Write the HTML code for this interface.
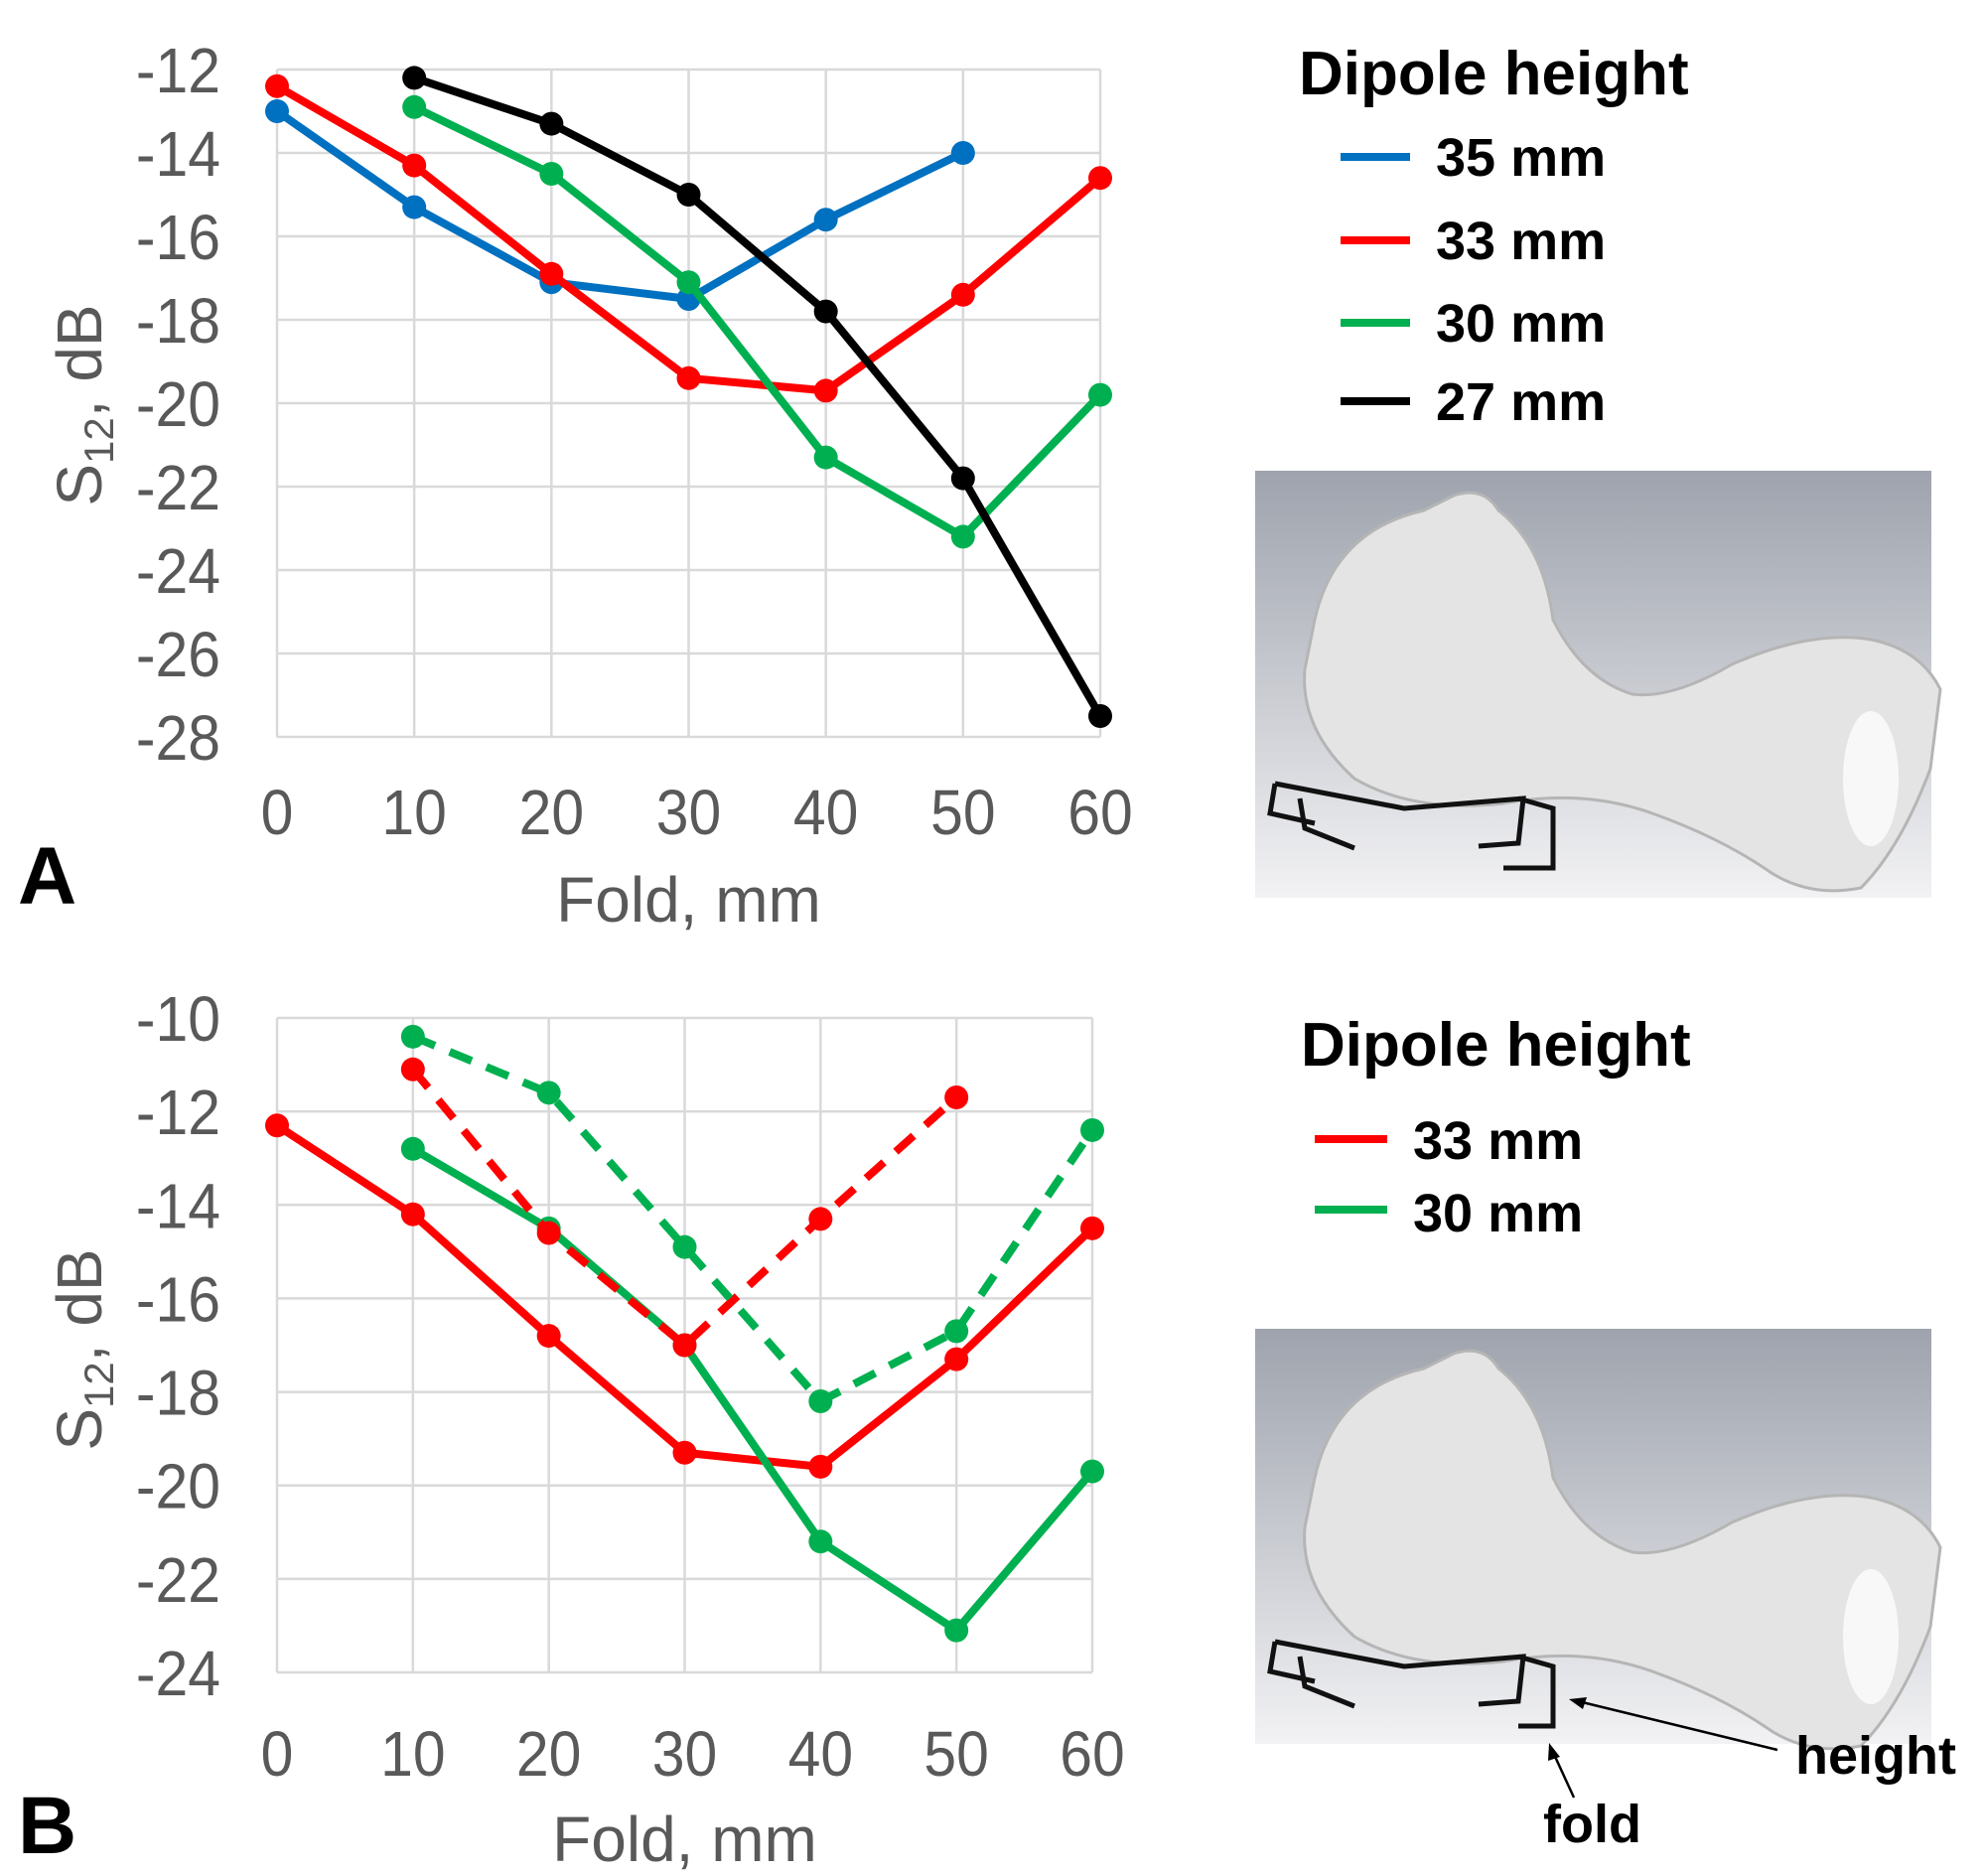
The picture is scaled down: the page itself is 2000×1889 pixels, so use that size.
<!DOCTYPE html>
<html><head><meta charset="utf-8"><style>
html,body{margin:0;padding:0;background:#fff;}
svg{display:block;font-family:"Liberation Sans",Arial,sans-serif;}
</style></head><body>
<svg id="fig" width="2000" height="1889" viewBox="0 0 2000 1889">
<defs>
<linearGradient id="bg" x1="0" y1="0" x2="0" y2="1"><stop offset="0" stop-color="#9ea3ad"/><stop offset="1" stop-color="#f2f2f4"/></linearGradient>
<g id="head">
<path d="M60 150 Q80 60 170 40 L200 25 Q230 15 245 40 Q290 75 300 150 Q330 210 380 225 Q420 230 480 195 Q560 160 620 170 Q670 180 690 220 L680 300 Q650 380 610 420 Q560 430 520 405 Q470 370 400 345 Q330 320 250 335 Q160 345 100 310 Q45 260 50 200 Z" fill="#e4e4e4" stroke="#b5b5b5" stroke-width="3"/>
<ellipse cx="620" cy="310" rx="28" ry="68" fill="#f8f8f8"/>
</g>
</defs>
<g id="chartA"></g>
<g id="chartB"></g>
<text x="18" y="910" font-size="82" font-weight="bold" fill="#000">A</text>
<text x="18" y="1866" font-size="82" font-weight="bold" fill="#000">B</text>

<g>
<text x="1308" y="95" font-size="62" font-weight="bold">Dipole height</text>
<g><line x1="1350" x2="1420" y1="158" y2="158" stroke="#0070c0" stroke-width="8"/><text x="1446" y="177" font-size="54" font-weight="bold">35 mm</text></g>
<g><line x1="1350" x2="1420" y1="242" y2="242" stroke="#ff0000" stroke-width="8"/><text x="1446" y="261" font-size="54" font-weight="bold">33 mm</text></g>
<g><line x1="1350" x2="1420" y1="325" y2="325" stroke="#00b050" stroke-width="8"/><text x="1446" y="344" font-size="54" font-weight="bold">30 mm</text></g>
<g><line x1="1350" x2="1420" y1="404" y2="404" stroke="#000" stroke-width="8"/><text x="1446" y="423" font-size="54" font-weight="bold">27 mm</text></g>
</g>
<g>
<text x="1310" y="1073" font-size="62" font-weight="bold">Dipole height</text>
<g><line x1="1324" x2="1397" y1="1147" y2="1147" stroke="#ff0000" stroke-width="8"/><text x="1423" y="1167" font-size="54" font-weight="bold">33 mm</text></g>
<g><line x1="1324" x2="1397" y1="1218" y2="1218" stroke="#00b050" stroke-width="8"/><text x="1423" y="1240" font-size="54" font-weight="bold">30 mm</text></g>
</g>

<g transform="translate(1264,474)">
<rect width="681" height="430" fill="url(#bg)"/>
<use href="#head"/>
<path d="M20 315 L150 340 L270 330 L265 375 L225 378 M265 330 L300 340 L300 400 L250 400 M20 315 L15 345 L60 355 M45 330 L50 360 L100 380" fill="none" stroke="#111" stroke-width="5"/>
</g>
<g transform="translate(1264,1338)">
<rect width="681" height="418" fill="url(#bg)"/>
<use href="#head"/>
<path d="M20 315 L150 340 L270 330 L265 375 L225 378 M265 330 L300 340 L300 400 L265 400 M20 315 L15 345 L60 355 M45 330 L50 360 L100 380" fill="none" stroke="#111" stroke-width="5"/>
</g>
<g>
<line x1="1790" y1="1762" x2="1585" y2="1712" stroke="#000" stroke-width="2.5"/>
<path d="M1580 1711 l18 -2 l-4 12 z" fill="#000"/>
<line x1="1585" y1="1810" x2="1562" y2="1760" stroke="#000" stroke-width="2.5"/>
<path d="M1560 1755 l11 14 l-12 4 z" fill="#000"/>
<text x="1808" y="1786" font-size="54" font-weight="bold">height</text>
<text x="1554" y="1855" font-size="54" font-weight="bold">fold</text>
</g>
</svg>
<script>
var xCats=[0,10,20,30,40,50,60];
var aYTicks=[-12,-14,-16,-18,-20,-22,-24,-26,-28];
var bYTicks=[-10,-12,-14,-16,-18,-20,-22,-24];
var aX35=[0,10,20,30,40,50];      var aY35=[-13,-15.3,-17.1,-17.5,-15.6,-14.0];
var aX33=[0,10,20,30,40,50,60];   var aY33=[-12.4,-14.3,-16.9,-19.4,-19.7,-17.4,-14.6];
var aX30=[10,20,30,40,50,60];     var aY30=[-12.9,-14.5,-17.1,-21.3,-23.2,-19.8];
var aX27=[10,20,30,40,50,60];     var aY27=[-12.2,-13.3,-15.0,-17.8,-21.8,-27.5];
var bX33=[0,10,20,30,40,50,60];   var bY33=[-12.3,-14.2,-16.8,-19.3,-19.6,-17.3,-14.5];
var bX30=[10,20,30,40,50,60];     var bY30=[-12.8,-14.5,-17.0,-21.2,-23.1,-19.7];
var bX33d=[10,20,30,40,50];       var bY33d=[-11.1,-14.6,-17.0,-14.3,-11.7];
var bX30d=[10,20,30,40,50,60];    var bY30d=[-10.4,-11.6,-14.9,-18.2,-16.7,-12.4];

var NS="http://www.w3.org/2000/svg";
function mk(tag,attrs,parent){var e=document.createElementNS(NS,tag);for(var k in attrs)e.setAttribute(k,attrs[k]);parent.appendChild(e);return e;}
function drawChart(g,cfg){
  var sx=function(v){return cfg.x0+(v-0)/60*(cfg.x1-cfg.x0);};
  var sy=function(v){return cfg.yTop+(cfg.yMax-v)/(cfg.yMax-cfg.yMin)*(cfg.yBot-cfg.yTop);};
  cfg.yTicks.forEach(function(t){
    var l=mk('line',{x1:cfg.x0,x2:cfg.x1,y1:sy(t),y2:sy(t),stroke:'#d9d9d9','stroke-width':2.5},g);
    
    
    var tx=mk('text',{x:0,y:0,'font-size':64,fill:'#595959','text-anchor':'end',transform:'translate(222,'+(sy(t)+23)+') scale(0.92,1)'},g);
    tx.textContent=String(t);
    
    
  });
  xCats.forEach(function(c){
    var l=mk('line',{x1:sx(c),x2:sx(c),y1:cfg.yTop,y2:cfg.yBot,stroke:'#d9d9d9','stroke-width':2.5},g);
    
    
    var tx=mk('text',{x:0,y:0,'font-size':64,fill:'#595959','text-anchor':'middle',transform:'translate('+sx(c)+','+cfg.xLabY+') scale(0.92,1)'},g);
    tx.textContent=c;
    
    
  });
  var xt=mk('text',{x:(cfg.x0+cfg.x1)/2,y:cfg.xTitleY,'font-size':64,fill:'#595959','text-anchor':'middle'},g);
  xt.textContent='Fold, mm';
  
  
  var yt=mk('text',{x:0,y:0,'font-size':64,fill:'#595959','text-anchor':'middle',transform:'translate(102,'+cfg.yTitleY+') rotate(-90)'},g);
  yt.innerHTML='S<tspan font-size="42" dy="12">12</tspan><tspan dy="-12">, dB</tspan>';
  
  
  cfg.series.forEach(function(s){
    var pts=s.x.map(function(v,i){return sx(v)+','+sy(s.y[i]);}).join(' ');
    var attrs={points:pts,fill:'none',stroke:s.c,'stroke-width':8,'stroke-linejoin':'round'};
    if(s.dash)attrs['stroke-dasharray']='24 16';
    var pl=mk('polyline',attrs,g);
    
    
    s.x.forEach(function(v,i){
      var m=mk('circle',{cx:sx(v),cy:sy(s.y[i]),r:12,fill:s.c},g);
      
      
    });
  });
}
drawChart(document.getElementById('chartA'),{x0:279,x1:1108,yTop:70,yBot:742,yMax:-12,yMin:-28,yTicks:aYTicks,xLabY:840,xTitleY:928,yTitleY:408,
 series:[{n:'35mm',x:aX35,y:aY35,c:'#0070c0'},{n:'33mm',x:aX33,y:aY33,c:'#ff0000'},{n:'30mm',x:aX30,y:aY30,c:'#00b050'},{n:'27mm',x:aX27,y:aY27,c:'#000000'}]});
drawChart(document.getElementById('chartB'),{x0:279,x1:1100,yTop:1025,yBot:1684,yMax:-10,yMin:-24,yTicks:bYTicks,xLabY:1788,xTitleY:1874,yTitleY:1359,
 series:[{n:'33mm',x:bX33,y:bY33,c:'#ff0000'},{n:'30mm',x:bX30,y:bY30,c:'#00b050'},{n:'33mm-dashed',x:bX33d,y:bY33d,c:'#ff0000',dash:true},{n:'30mm-dashed',x:bX30d,y:bY30d,c:'#00b050',dash:true}]});
</script>
</body></html>
